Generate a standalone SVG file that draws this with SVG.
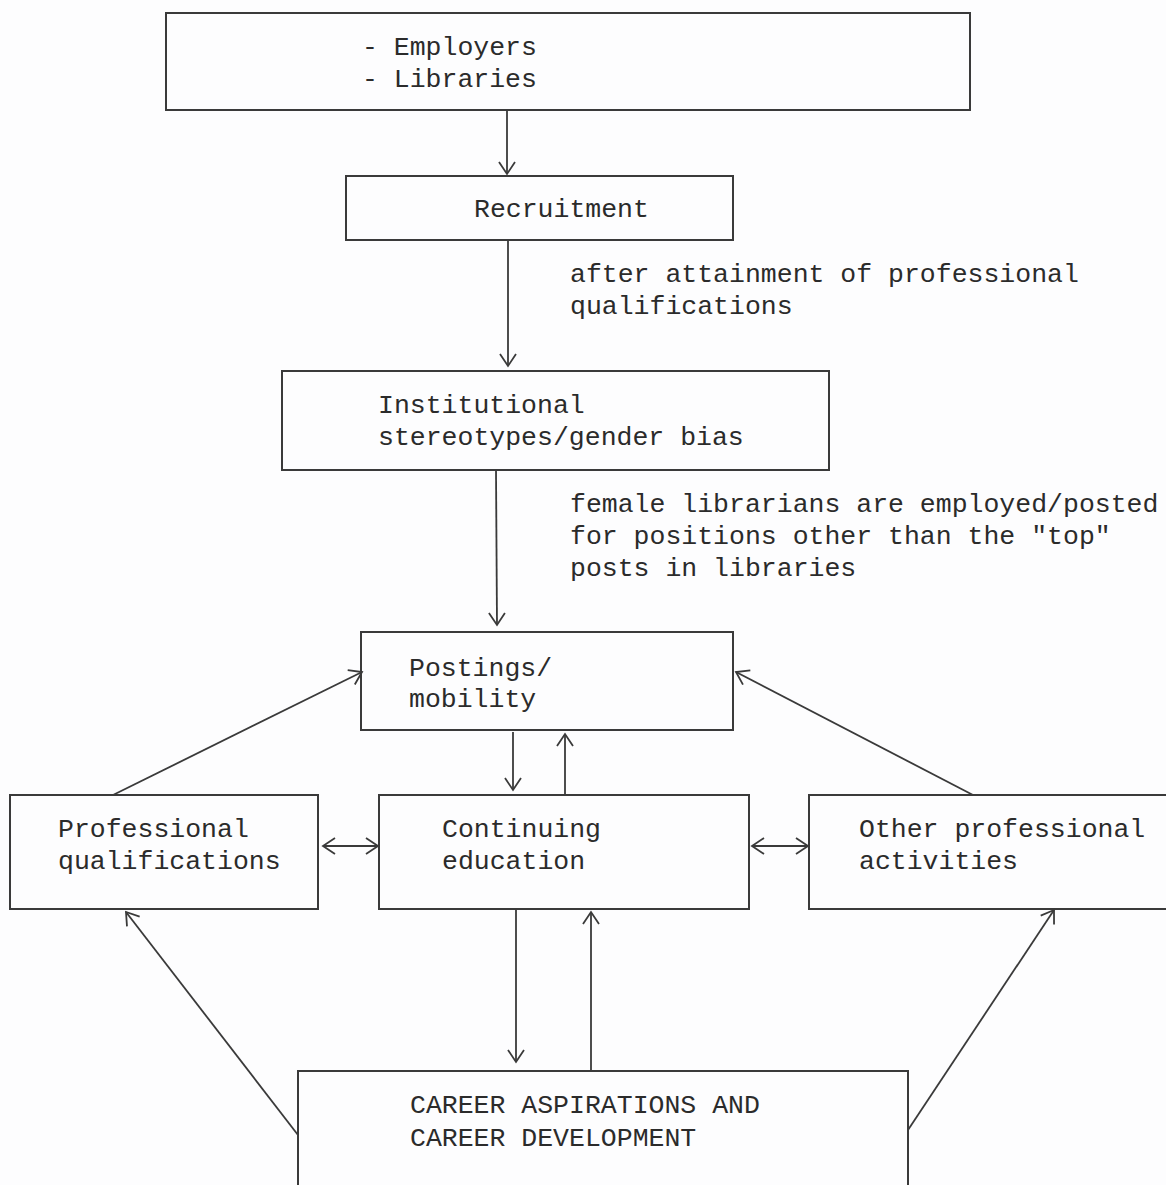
<svg xmlns="http://www.w3.org/2000/svg" width="1166" height="1185" viewBox="0 0 1166 1185">
<defs>
<style>
.box{fill:none;stroke:#3a3a3a;stroke-width:2}
.t{font-family:"Liberation Mono","Courier New",monospace;font-size:26.5px;fill:#2b2b2b}
.c{fill:none;stroke:#3a3a3a;stroke-width:1.8}
</style>
<marker id="ah" markerUnits="userSpaceOnUse" markerWidth="16" markerHeight="18" viewBox="0 0 14 18" refX="13" refY="9" orient="auto-start-reverse">
<path d="M1,1 L13,9 L1,17" fill="none" stroke="#3a3a3a" stroke-width="1.8"/>
</marker>
</defs>
<rect width="1166" height="1185" fill="#fdfdfe"/>
<g id="employers">
<rect class="box" x="166" y="13" width="804" height="97"/>
<text class="t" x="362" y="55">- Employers</text>
<text class="t" x="362" y="87">- Libraries</text>
</g>
<g id="recruitment">
<rect class="box" x="346" y="176" width="387" height="64"/>
<text class="t" x="474" y="217">Recruitment</text>
</g>
<g id="institutional">
<rect class="box" x="282" y="371" width="547" height="99"/>
<text class="t" x="378" y="413">Institutional</text>
<text class="t" x="378" y="445">stereotypes/gender bias</text>
</g>
<g id="postings">
<rect class="box" x="361" y="632" width="372" height="98"/>
<text class="t" x="409" y="676">Postings/</text>
<text class="t" x="409" y="707">mobility</text>
</g>
<g id="profqual">
<rect class="box" x="10" y="795" width="308" height="114"/>
<text class="t" x="58" y="837">Professional</text>
<text class="t" x="58" y="869">qualifications</text>
</g>
<g id="contedu">
<rect class="box" x="379" y="795" width="370" height="114"/>
<text class="t" x="442" y="837">Continuing</text>
<text class="t" x="442" y="869">education</text>
</g>
<g id="otherprof">
<rect class="box" x="809" y="795" width="370" height="114"/>
<text class="t" x="859" y="837">Other professional</text>
<text class="t" x="859" y="869">activities</text>
</g>
<g id="career">
<rect class="box" x="298" y="1071" width="610" height="130"/>
<text class="t" x="410" y="1113">CAREER ASPIRATIONS AND</text>
<text class="t" x="410" y="1146">CAREER DEVELOPMENT</text>
</g>
<g id="labels">
<text class="t" x="570" y="282">after attainment of professional</text>
<text class="t" x="570" y="314">qualifications</text>
<text class="t" x="570" y="512">female librarians are employed/posted</text>
<text class="t" x="570" y="544">for positions other than the "top"</text>
<text class="t" x="570" y="576">posts in libraries</text>
</g>
<g id="connectors">
<line class="c" x1="507" y1="110" x2="507" y2="174" marker-end="url(#ah)"/>
<line class="c" x1="508" y1="240" x2="508" y2="366" marker-end="url(#ah)"/>
<line class="c" x1="496" y1="470" x2="497" y2="625" marker-end="url(#ah)"/>
<line class="c" x1="513" y1="732" x2="513" y2="790" marker-end="url(#ah)"/>
<line class="c" x1="565" y1="795" x2="565" y2="734" marker-end="url(#ah)"/>
<line class="c" x1="113" y1="795" x2="362" y2="672" marker-end="url(#ah)"/>
<line class="c" x1="973" y1="795" x2="736" y2="672" marker-end="url(#ah)"/>
<line class="c" x1="323" y1="846" x2="378" y2="846" marker-start="url(#ah)" marker-end="url(#ah)"/>
<line class="c" x1="752" y1="846" x2="808" y2="846" marker-start="url(#ah)" marker-end="url(#ah)"/>
<line class="c" x1="516" y1="909" x2="516" y2="1062" marker-end="url(#ah)"/>
<line class="c" x1="591" y1="1071" x2="591" y2="912" marker-end="url(#ah)"/>
<line class="c" x1="298" y1="1135" x2="126" y2="912" marker-end="url(#ah)"/>
<line class="c" x1="908" y1="1130" x2="1054" y2="910" marker-end="url(#ah)"/>
</g>
</svg>
